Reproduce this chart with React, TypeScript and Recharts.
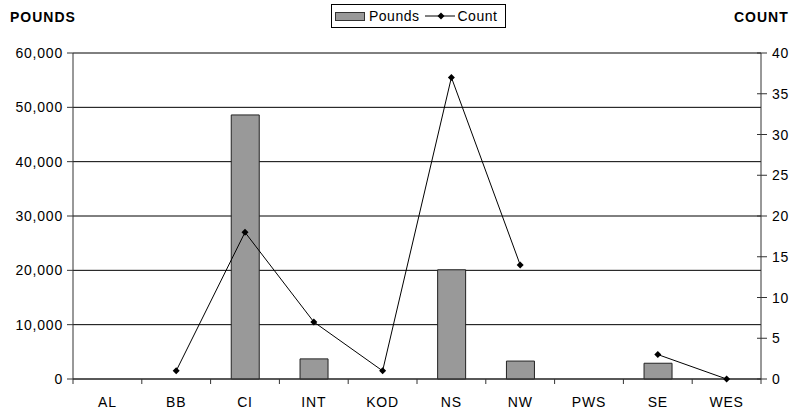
import React from "react";
import {
  ComposedChart,
  Bar,
  Line,
  XAxis,
  YAxis,
  CartesianGrid,
} from "recharts";

const regions = ["AL", "BB", "CI", "INT", "KOD", "NS", "NW", "PWS", "SE", "WES"];
const pounds = [0, 0, 48600, 3700, 0, 20100, 3300, 0, 2900, 0];
const counts: (number | null)[] = [null, 1, 18, 7, 1, 37, 14, null, 3, 0];
const poundTicks = [0, 10000, 20000, 30000, 40000, 50000, 60000];
const countTicks = [0, 5, 10, 15, 20, 25, 30, 35, 40];

const W = 806;
const H = 413;
const LEFT_W = 73;
const RIGHT_W = 45;
const TOP = 53;
const XAXIS_H = 34;
const BAND = (W - LEFT_W - RIGHT_W) / regions.length;

const FONT = "'Liberation Sans', Arial, sans-serif";
const tickText = { fontFamily: FONT, fontSize: 14, letterSpacing: 0.8, fill: "#000" };

const data = regions.map((r, i) => ({
  region: r,
  pounds: pounds[i],
  count: counts[i],
}));

const LeftTick = (props: any) => {
  const { x, y, payload } = props;
  return (
    <g>
      <line x1={x - 6} x2={x} y1={y} y2={y} stroke="#333" />
      <text x={x - 10} y={y + 5} textAnchor="end" {...tickText}>
        {Number(payload.value).toLocaleString("en-US")}
      </text>
    </g>
  );
};

const RightTick = (props: any) => {
  const { x, y, payload } = props;
  return (
    <g>
      <line x1={x - 4} x2={x + 6} y1={y} y2={y} stroke="#333" />
      <text x={x + 11} y={y + 5} textAnchor="start" {...tickText}>
        {payload.value}
      </text>
    </g>
  );
};

const BottomTick = (props: any) => {
  const { x, y, payload, index } = props;
  return (
    <g>
      <line x1={x - BAND / 2} x2={x - BAND / 2} y1={y} y2={y + 5} stroke="#333" />
      {index === regions.length - 1 && (
        <line x1={x + BAND / 2} x2={x + BAND / 2} y1={y} y2={y + 5} stroke="#333" />
      )}
      <text x={x} y={y + 28} textAnchor="middle" {...tickText}>
        {payload.value}
      </text>
    </g>
  );
};

const Diamond = (props: any) => {
  const { cx, cy, index } = props;
  if (cy == null || cx == null) return <g key={index} />;
  const s = 3.5;
  return (
    <polygon
      key={index}
      points={`${cx},${cy - s} ${cx + s},${cy} ${cx},${cy + s} ${cx - s},${cy}`}
      fill="#000"
    />
  );
};

export default function App() {
  return (
    <div style={{ position: "absolute", left: 0, top: 0, width: W, height: H, background: "#fff", fontFamily: FONT }}>
      <div style={{ position: "absolute", left: 10, top: 9, fontWeight: "bold", fontSize: 14, letterSpacing: 1 }}>
        POUNDS
      </div>
      <div style={{ position: "absolute", left: 734, top: 9, fontWeight: "bold", fontSize: 14, letterSpacing: 1 }}>
        COUNT
      </div>
      <div
        style={{
          position: "absolute",
          left: 331,
          top: 4,
          width: 173,
          height: 22,
          border: "1px solid #000",
          display: "flex",
          alignItems: "center",
          fontSize: 14,
          letterSpacing: 0.5,
          zIndex: 2,
          background: "#fff",
        }}
      >
        <span style={{ display: "inline-block", width: 28, height: 7, background: "#999", border: "1px solid #333", marginLeft: 3, marginRight: 4 }} />
        <span>Pounds</span>
        <svg width={30} height={10} style={{ marginLeft: 6, marginRight: 2 }}>
          <line x1={0} x2={30} y1={5} y2={5} stroke="#000" />
          <polygon points="16,1.5 19.5,5 16,8.5 12.5,5" fill="#000" />
        </svg>
        <span>Count</span>
      </div>
      <ComposedChart
        width={W}
        height={H}
        data={data}
        margin={{ top: TOP, right: 0, bottom: 0, left: 0 }}
        barCategoryGap="30%"
      >
        <CartesianGrid yAxisId="left" vertical={false} horizontal stroke="#000" />
        <XAxis
          dataKey="region"
          height={XAXIS_H}
          tickSize={0}
          tickMargin={0}
          tickLine={false}
          stroke="#333"
          tick={<BottomTick />}
          interval={0}
        />
        <YAxis
          yAxisId="left"
          orientation="left"
          width={LEFT_W}
          domain={[0, 60000]}
          ticks={poundTicks}
          tickSize={0}
          tickMargin={0}
          tickLine={false}
          stroke="#333"
          tick={<LeftTick />}
          interval={0}
        />
        <YAxis
          yAxisId="right"
          orientation="right"
          width={RIGHT_W}
          domain={[0, 40]}
          ticks={countTicks}
          tickSize={0}
          tickMargin={0}
          tickLine={false}
          stroke="#333"
          tick={<RightTick />}
          interval={0}
        />
        <Bar
          yAxisId="left"
          dataKey="pounds"
          fill="#999999"
          stroke="#222"
          strokeWidth={1}
          isAnimationActive={false}
        />
        <Line
          yAxisId="right"
          dataKey="count"
          stroke="#000"
          strokeWidth={1}
          dot={<Diamond />}
          activeDot={false}
          connectNulls={false}
          isAnimationActive={false}
        />
      </ComposedChart>
    </div>
  );
}
